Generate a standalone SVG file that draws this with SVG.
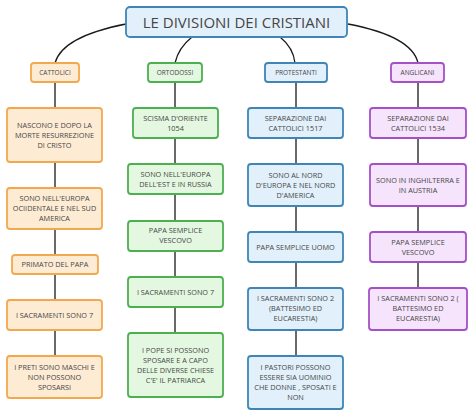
<svg xmlns="http://www.w3.org/2000/svg" width="474" height="417" viewBox="0 0 474 417">
<style>
text{font-family:"Open Sans","DejaVu Sans",sans-serif;fill:#464646;text-anchor:middle}
.t{font-size:7.3px}
.h{font-size:6.5px}
.o rect{fill:#fdebd4;stroke:#f2a94e;stroke-width:1.8}
.g rect{fill:#e4f8e1;stroke:#4caf50;stroke-width:1.8}
.b rect{fill:#e2f0fb;stroke:#3f85b5;stroke-width:1.8}
.p rect{fill:#f5e4fb;stroke:#a451c8;stroke-width:1.8}
#conn path{fill:none;stroke:#1a1a1a;stroke-width:1.3}
</style>
<rect width="474" height="417" fill="#ffffff"/>
<g id="conn">
<path d="M126,24 C85,32 60,45 55,63"/>
<path d="M192,37 C182,45 177,54 175,63"/>
<path d="M280,37 C290,45 294,54 295,63"/>
<path d="M348,24 C390,32 414,45 418,63"/>
<path d="M55,82 V108 M55,162 V188 M55,229 V255 M55,274 V300 M55,330 V356"/>
<path d="M175,82 V108 M175,138 V164 M175,194 V221 M175,251 V277 M175,307 V333"/>
<path d="M296,82 V108 M296,138 V164 M296,206 V232 M296,262 V288 M296,330 V356"/>
<path d="M418,82 V108 M418,138 V164 M418,206 V232 M418,262 V288"/>
</g>
<g id="title" class="b"><rect x="126" y="7" width="221" height="30" rx="4"/><text x="236.5" y="28" style="font-size:15px">LE DIVISIONI DEI CRISTIANI</text></g>
<g id="cattolici" class="o"><rect x="31" y="63" width="48" height="19" rx="3"/><text class="h" x="55" y="74.7">CATTOLICI</text></g>
<g id="ortodossi" class="g"><rect x="148" y="63" width="54" height="19" rx="3"/><text class="h" x="175" y="74.7">ORTODOSSI</text></g>
<g id="protestanti" class="b"><rect x="265" y="63" width="62" height="19" rx="3"/><text class="h" x="296" y="74.7">PROTESTANTI</text></g>
<g id="anglicani" class="p"><rect x="391" y="63" width="53" height="19" rx="3"/><text class="h" x="417.5" y="74.7">ANGLICANI</text></g>

<g id="c1" class="o"><rect x="7" y="108" width="95" height="54" rx="3"/><text class="t" x="54.5" y="127.5">NASCONO E DOPO LA</text><text class="t" x="54.5" y="137.5">MORTE RESURREZIONE</text><text class="t" x="54.5" y="147.5">DI CRISTO</text></g>
<g id="c2" class="o"><rect x="7" y="188" width="95" height="41" rx="3"/><text class="t" x="54.5" y="200.5">SONO NELL'EUROPA</text><text class="t" x="54.5" y="210.5">OCIIDENTALE E NEL SUD</text><text class="t" x="54.5" y="220.5">AMERICA</text></g>
<g id="c3" class="o"><rect x="12" y="255" width="86" height="19" rx="3"/><text class="t" x="55" y="267">PRIMATO DEL PAPA</text></g>
<g id="c4" class="o"><rect x="7" y="300" width="95" height="30" rx="3"/><text class="t" x="54.5" y="317.5">I SACRAMENTI SONO 7</text></g>
<g id="c5" class="o"><rect x="7" y="356" width="95" height="42" rx="3"/><text class="t" x="54.5" y="369.5">I PRETI SONO MASCHI E</text><text class="t" x="54.5" y="379.5">NON POSSONO</text><text class="t" x="54.5" y="389.5">SPOSARSI</text></g>

<g id="o1" class="g"><rect x="133" y="108" width="85" height="30" rx="3"/><text class="t" x="175.5" y="120.5">SCISMA D'ORIENTE</text><text class="t" x="175.5" y="130.5">1054</text></g>
<g id="o2" class="g"><rect x="128" y="164" width="95" height="30" rx="3"/><text class="t" x="175.5" y="176.5">SONO NELL'EUROPA</text><text class="t" x="175.5" y="186.5">DELL'EST E IN RUSSIA</text></g>
<g id="o3" class="g"><rect x="128" y="221" width="95" height="30" rx="3"/><text class="t" x="175.5" y="232.5">PAPA SEMPLICE</text><text class="t" x="175.5" y="242.5">VESCOVO</text></g>
<g id="o4" class="g"><rect x="128" y="277" width="95" height="30" rx="3"/><text class="t" x="175.5" y="294.5">I SACRAMENTI SONO 7</text></g>
<g id="o5" class="g"><rect x="128" y="333" width="95" height="64" rx="3"/><text class="t" x="175.5" y="352.5">I POPE SI POSSONO</text><text class="t" x="175.5" y="362.5">SPOSARE E A CAPO</text><text class="t" x="175.5" y="372.5">DELLE DIVERSE CHIESE</text><text class="t" x="175.5" y="382.5">C'E' IL PATRIARCA</text></g>

<g id="p1" class="b"><rect x="248" y="108" width="95" height="30" rx="3"/><text class="t" x="295.5" y="120.5">SEPARAZIONE DAI</text><text class="t" x="295.5" y="130.5">CATTOLICI 1517</text></g>
<g id="p2" class="b"><rect x="248" y="164" width="95" height="42" rx="3"/><text class="t" x="295.5" y="177.5">SONO AL NORD</text><text class="t" x="295.5" y="187.5">D'EUROPA E NEL NORD</text><text class="t" x="295.5" y="197.5">D'AMERICA</text></g>
<g id="p3" class="b"><rect x="248" y="232" width="95" height="30" rx="3"/><text class="t" x="295.5" y="249.5">PAPA SEMPLICE UOMO</text></g>
<g id="p4" class="b"><rect x="248" y="288" width="95" height="42" rx="3"/><text class="t" x="295.5" y="300.5">I SACRAMENTI SONO 2</text><text class="t" x="295.5" y="310.5">(BATTESIMO ED</text><text class="t" x="295.5" y="320.5">EUCARESTIA)</text></g>
<g id="p5" class="b"><rect x="248" y="356" width="95" height="53" rx="3"/><text class="t" x="295.5" y="369.5">I PASTORI POSSONO</text><text class="t" x="295.5" y="379.5">ESSERE SIA UOMINIO</text><text class="t" x="295.5" y="389.5">CHE DONNE , SPOSATI E</text><text class="t" x="295.5" y="399.5">NON</text></g>

<g id="a1" class="p"><rect x="370" y="108" width="96" height="30" rx="3"/><text class="t" x="418" y="120.5">SEPARAZIONE DAI</text><text class="t" x="418" y="130.5">CATTOLICI 1534</text></g>
<g id="a2" class="p"><rect x="370" y="164" width="96" height="42" rx="3"/><text class="t" x="418" y="182.5">SONO IN INGHILTERRA E</text><text class="t" x="418" y="192.5">IN AUSTRIA</text></g>
<g id="a3" class="p"><rect x="370" y="232" width="96" height="30" rx="3"/><text class="t" x="418" y="244.5">PAPA SEMPLICE</text><text class="t" x="418" y="254.5">VESCOVO</text></g>
<g id="a4" class="p"><rect x="369" y="288" width="98" height="42" rx="3"/><text class="t" x="418" y="300.5">I SACRAMENTI SONO 2 (</text><text class="t" x="418" y="310.5">BATTESIMO ED</text><text class="t" x="418" y="320.5">EUCARESTIA)</text></g>
</svg>
